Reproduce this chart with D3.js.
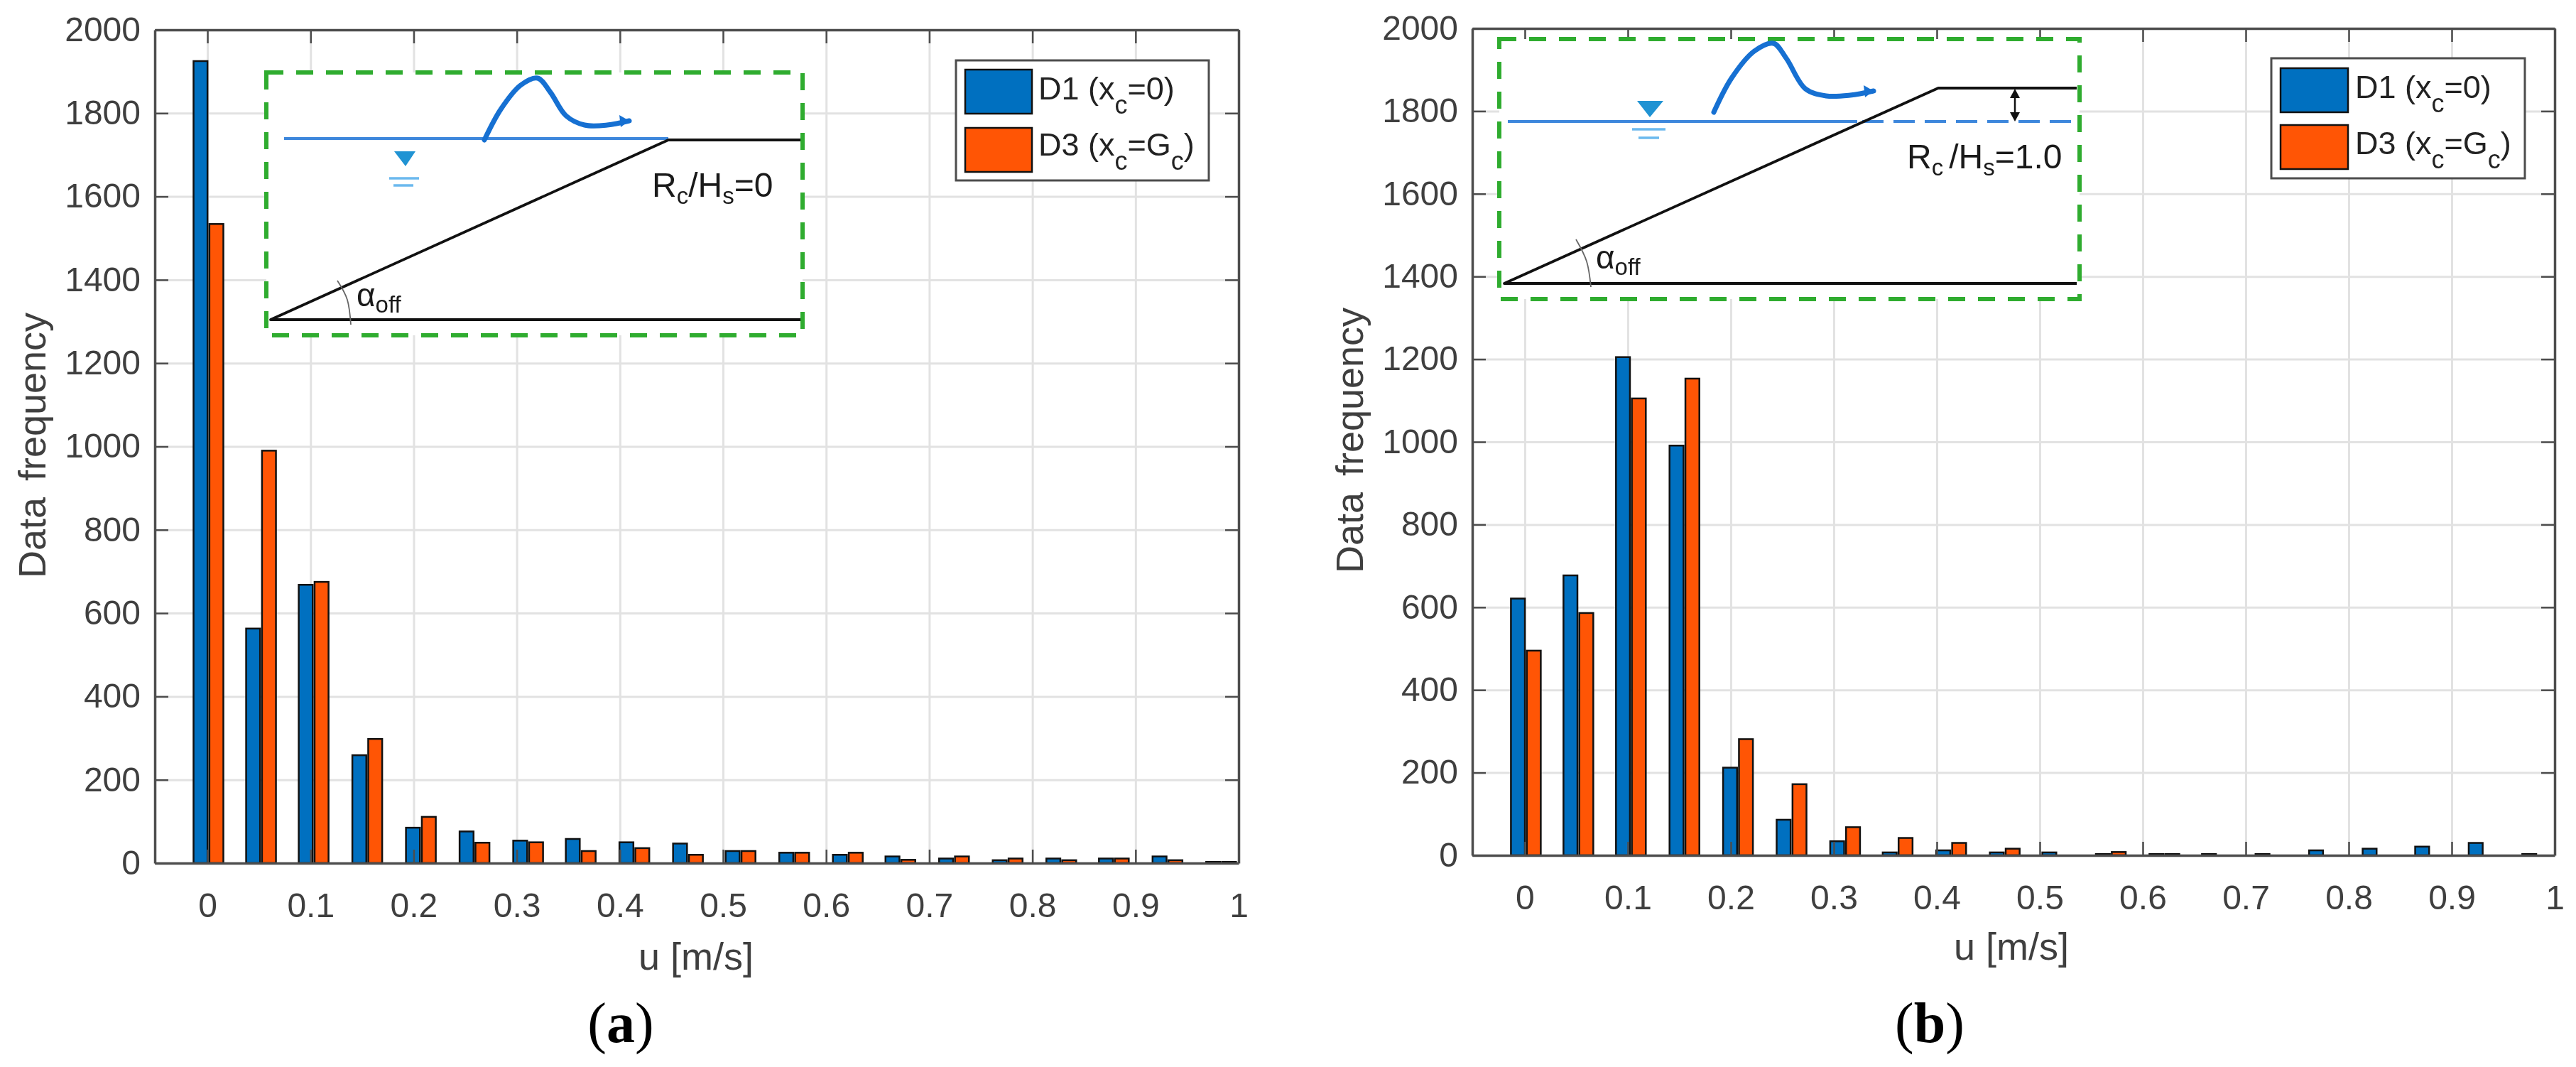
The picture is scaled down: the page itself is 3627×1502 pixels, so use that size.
<!DOCTYPE html>
<html lang="en">
<head>
<meta charset="utf-8">
<title>Data frequency of u</title>
<script src="https://cdn.jsdelivr.net/npm/d3@7"></script>
<style>
  html, body { margin: 0; background: #fff; }
  svg { display: block; filter: blur(0.7px); font-family: "Liberation Sans", sans-serif; }
</style>
</head>
<body>
<script>
// values
var binCentres = [0.001, 0.052, 0.103, 0.155, 0.207, 0.259, 0.311, 0.362, 0.414, 0.466,
                  0.517, 0.569, 0.621, 0.672, 0.724, 0.776, 0.828, 0.879, 0.931, 0.983];
var xTicks = [0, 0.1, 0.2, 0.3, 0.4, 0.5, 0.6, 0.7, 0.8, 0.9, 1];
var yTicks = [0, 200, 400, 600, 800, 1000, 1200, 1400, 1600, 1800, 2000];
var seriesNames = ["D1", "D3"];

var d1PanelA = [1925, 563, 668, 259, 85, 76, 54, 58, 50, 47, 29, 25, 20, 16, 11, 7, 11, 11, 16, 3];
var d3PanelA = [1534, 990, 675, 298, 111, 49, 50, 29, 36, 20, 29, 25, 25, 8, 16, 11, 7, 11, 7, 3];
var d1PanelB = [621, 677, 1205, 991, 212, 86, 34, 7, 12, 7, 7, 3, 3, 3, 3, 12, 16, 21, 30, 3];
var d3PanelB = [495, 586, 1105, 1153, 281, 172, 68, 42, 30, 16, 0, 8, 3, 0, 0, 0, 0, 0, 0, 0];

var colors = { D1: "#0070c0", D3: "#ff5505" };
var axisColor = "#4d4d4d", textColor = "#3f3f3f";

var svg = d3.select("body").append("svg").attr("width", 3627).attr("height", 1502);

var waveCurve = d3.line().curve(d3.curveCatmullRom.alpha(0.5));

// text with subscripts, parts are [string, isSub, dx]
function richText(parent, x, y, size, subSize, shift, parts, fill) {
  var t = parent.append("text").attr("x", x).attr("y", y)
    .attr("font-size", size).attr("fill", fill || "#1a1a1a");
  var down = false;
  parts.forEach(function (p) {
    var s = t.append("tspan").text(p[0]);
    if (p[1]) { s.attr("dy", shift).attr("font-size", subSize); down = true; }
    else {
      if (down) { s.attr("dy", -shift); down = false; }
      s.attr("font-size", size);
      if (p[2]) s.attr("dx", p[2]);
    }
  });
  return t;
}

function drawPanel(p) {
  var w = p.right - p.left, h = p.bottom - p.top;
  var x = d3.scaleLinear().domain([-0.051, 1]).range([0, w]);
  var y = d3.scaleLinear().domain([0, 2000]).range([h, 0]);
  var inner = d3.scaleBand().domain(seriesNames).range([-21, 21]).paddingInner(0.12);

  var g = svg.append("g").attr("transform", "translate(" + p.left + "," + p.top + ")");

  // grid
  var grid = g.append("g").attr("class", "grid");
  grid.append("g").attr("transform", "translate(0," + h + ")")
    .call(d3.axisBottom(x).tickValues(xTicks).tickSize(-h).tickFormat(""));
  grid.append("g")
    .call(d3.axisLeft(y).tickValues(yTicks).tickSize(-w).tickFormat(""));
  grid.selectAll(".domain").remove();
  grid.selectAll("line").attr("stroke", "#e2e2e2").attr("stroke-width", 3);

  // bars
  seriesNames.forEach(function (name, k) {
    g.append("g").selectAll("rect")
      .data(binCentres.map(function (c, i) { return { c: c, v: p.values[k][i] }; })
        .filter(function (d) { return d.v > 0; }))
      .enter().append("rect")
      .attr("x", function (d) { return x(d.c) + inner(name); })
      .attr("y", function (d) { return y(d.v); })
      .attr("width", inner.bandwidth())
      .attr("height", function (d) { return h - y(d.v); })
      .attr("fill", colors[name])
      .attr("stroke", "#111")
      .attr("stroke-width", 2.5);
  });

  // axes, ticks point inward on all four sides
  var axes = g.append("g");
  axes.append("g").attr("transform", "translate(0," + h + ")")
    .call(d3.axisBottom(x).tickValues(xTicks).tickSizeInner(-19).tickSizeOuter(0).tickPadding(42).tickFormat(d3.format("")));
  axes.append("g")
    .call(d3.axisTop(x).tickValues(xTicks).tickSizeInner(-19).tickSizeOuter(0).tickFormat(""));
  axes.append("g")
    .call(d3.axisLeft(y).tickValues(yTicks).tickSizeInner(-19).tickSizeOuter(0).tickPadding(20).tickFormat(d3.format("d")));
  axes.append("g").attr("transform", "translate(" + w + ",0)")
    .call(d3.axisRight(y).tickValues(yTicks).tickSizeInner(-19).tickSizeOuter(0).tickFormat(""));
  axes.selectAll(".domain").attr("stroke", axisColor).attr("stroke-width", 3.5);
  axes.selectAll("line").attr("stroke", axisColor).attr("stroke-width", 2.5);
  axes.selectAll("text").attr("font-size", 48).attr("font-family", "Liberation Sans").attr("fill", textColor);

  drawInset(p.inset);
  drawLegend(p.legend);

  // axes titles and panel letter
  svg.append("text").attr("x", p.xLabel[0]).attr("y", p.xLabel[1]).attr("text-anchor", "middle")
    .attr("font-size", 54).attr("fill", textColor).text("u [m/s]");
  svg.append("text").attr("transform", "translate(" + p.yLabel[0] + "," + p.yLabel[1] + ") rotate(-90)")
    .attr("text-anchor", "middle").attr("font-size", 54).attr("word-spacing", 8).attr("fill", textColor).text("Data frequency");
  var letter = svg.append("text").attr("x", p.letter[0]).attr("y", 1467).attr("text-anchor", "middle")
    .attr("font-family", "Liberation Serif").attr("font-size", 80).attr("fill", "#000");
  letter.append("tspan").text("(");
  letter.append("tspan").attr("font-weight", "bold").text(p.letter[1]);
  letter.append("tspan").text(")");
}

function drawInset(n) {
  var g = svg.append("g");
  g.append("rect").attr("x", n.box[0]).attr("y", n.box[1])
    .attr("width", n.box[2] - n.box[0]).attr("height", n.box[3] - n.box[1])
    .attr("fill", "#fff").attr("stroke", "#2fac2f").attr("stroke-width", 6).attr("stroke-dasharray", "24 18");

  // water level
  g.append("path").attr("d", d3.line()(n.water)).attr("fill", "none").attr("stroke", "#3d87dc").attr("stroke-width", 4);
  if (n.waterDash) {
    g.append("path").attr("d", d3.line()(n.waterDash)).attr("fill", "none")
      .attr("stroke", "#3d87dc").attr("stroke-width", 4).attr("stroke-dasharray", "30 14");
  }
  // structure outline
  g.append("path").attr("d", d3.line()(n.profile)).attr("fill", "none")
    .attr("stroke", "#111").attr("stroke-width", 3.8).attr("stroke-linejoin", "round");
  // wave
  g.append("path").attr("d", waveCurve(n.wave)).attr("fill", "none")
    .attr("stroke", "#1670d2").attr("stroke-width", 7).attr("stroke-linecap", "round");
  var tip = n.wave[n.wave.length - 1];
  g.append("path").attr("d", d3.line()([[tip[0] - 14, tip[1] - 8], tip, [tip[0] - 12, tip[1] + 9]]) + "Z").attr("fill", "#1670d2");
  // water symbol
  g.append("path").attr("d", d3.line()(n.triangle) + "Z").attr("fill", "#2093d3");
  n.symbolLines.forEach(function (l) {
    g.append("path").attr("d", d3.line()(l)).attr("stroke", "#6bb9ee").attr("stroke-width", 3.5);
  });
  // angle
  g.append("path").attr("d", d3.line().curve(d3.curveNatural)(n.arc)).attr("fill", "none").attr("stroke", "#666").attr("stroke-width", 1.8);
  richText(g, n.alpha[0], n.alpha[1], 46, 33, 9, [["α"], ["off", true]]);
  richText(g, n.label[0], n.label[1], 48, 33, 10, n.labelParts);

  if (n.gap) {
    var ax = n.gap[0], y0 = n.gap[1], y1 = n.gap[2];
    g.append("path").attr("d", d3.line()([[ax, y0 + 8], [ax, y1 - 8]])).attr("stroke", "#111").attr("stroke-width", 2.5);
    g.append("path").attr("d", d3.line()([[ax - 7, y0 + 14], [ax, y0 + 1], [ax + 7, y0 + 14]]) + "Z").attr("fill", "#111");
    g.append("path").attr("d", d3.line()([[ax - 7, y1 - 14], [ax, y1 - 1], [ax + 7, y1 - 14]]) + "Z").attr("fill", "#111");
  }
}

function drawLegend(l) {
  var g = svg.append("g");
  g.append("rect").attr("x", l.box[0]).attr("y", l.box[1])
    .attr("width", l.box[2] - l.box[0]).attr("height", l.box[3] - l.box[1])
    .attr("fill", "#fff").attr("stroke", axisColor).attr("stroke-width", 3);
  var entries = [
    { name: "D1", parts: [["D1 (x"], ["c", true], ["=0)"]] },
    { name: "D3", parts: [["D3 (x"], ["c", true], ["=G"], ["c", true], [")"]] }
  ];
  entries.forEach(function (e, i) {
    g.append("rect").attr("x", l.swatchX[0]).attr("y", l.swatchY[i])
      .attr("width", l.swatchX[1] - l.swatchX[0]).attr("height", l.swatchH)
      .attr("fill", colors[e.name]).attr("stroke", "#111").attr("stroke-width", 2.5);
    richText(g, l.textX, l.baseY[i], 45, 36, 20, e.parts, "#222");
  });
}

drawPanel({
  left: 218, top: 42, right: 1744, bottom: 1215,
  values: [d1PanelA, d3PanelA],
  xLabel: [980, 1365], yLabel: [64, 627], letter: [874, "a"],
  legend: { box: [1346, 85, 1702, 254], swatchX: [1359, 1453], swatchY: [98, 180], swatchH: 62, textX: 1462, baseY: [140, 219] },
  inset: {
    box: [375, 102, 1130, 472],
    water: [[400, 195], [941, 195]],
    profile: [[1127, 450], [381, 450], [941, 197], [1127, 197]],
    wave: [[682, 197], [705, 154], [733, 120], [757, 110], [775, 130], [797, 163], [823, 176], [855, 176], [886, 170]],
    triangle: [[555, 213], [585, 213], [571, 234]],
    symbolLines: [[[548, 251], [590, 251]], [[554, 261], [582, 261]]],
    arc: [[475, 395], [489, 422], [494, 457]],
    alpha: [502, 431],
    label: [918, 277],
    labelParts: [["R"], ["c", true], ["/H"], ["s", true], ["=0"]]
  }
});

drawPanel({
  left: 2073, top: 40, right: 3597, bottom: 1204,
  values: [d1PanelB, d3PanelB],
  xLabel: [2832, 1351], yLabel: [1919, 620], letter: [2717, "b"],
  legend: { box: [3198, 82, 3555, 251], swatchX: [3211, 3306], swatchY: [96, 176], swatchH: 62, textX: 3316, baseY: [138, 217] },
  inset: {
    box: [2111, 55, 2928, 421],
    water: [[2123, 171], [2615, 171]],
    waterDash: [[2622, 171], [2927, 171]],
    profile: [[2924, 399], [2118, 399], [2729, 124], [2924, 124]],
    wave: [[2413, 158], [2438, 110], [2470, 72], [2497, 61], [2515, 82], [2542, 125], [2571, 135], [2605, 134], [2638, 128]],
    triangle: [[2305, 142], [2342, 142], [2323, 165]],
    symbolLines: [[[2298, 182], [2345, 182]], [[2307, 194], [2336, 194]]],
    arc: [[2219, 337], [2234, 368], [2240, 404]],
    alpha: [2247, 378],
    label: [2685, 237],
    labelParts: [["R"], ["c", true], ["/H", false, 8], ["s", true], ["=1.0"]],
    gap: [2837, 124, 172]
  }
});
</script>
</body>
</html>
